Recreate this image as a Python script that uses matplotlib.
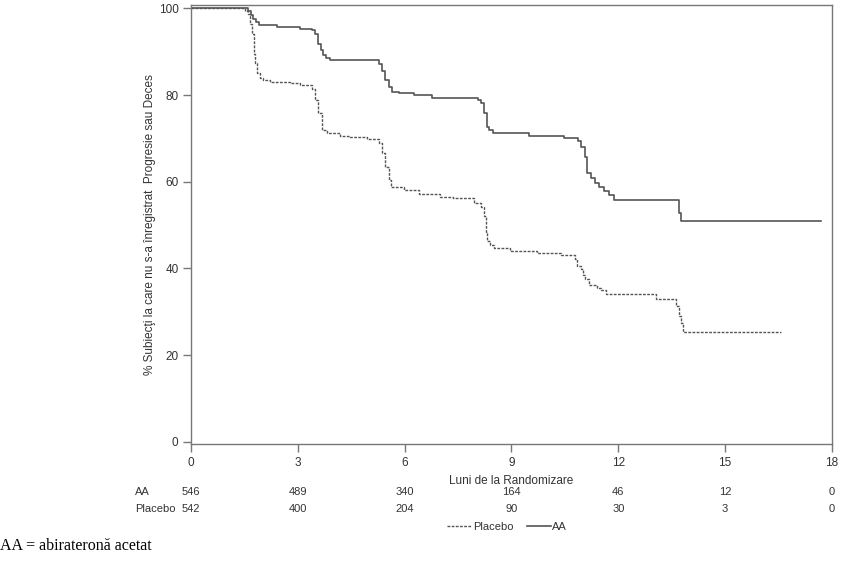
import matplotlib
matplotlib.use("Agg")
import matplotlib.pyplot as plt
from matplotlib.lines import Line2D
from matplotlib.transforms import blended_transform_factory

plt.rcParams["font.family"] = ["Liberation Sans Narrow", "Liberation Sans", "DejaVu Sans"]

# Kaplan-Meier steps (months, % free of progression or death)
aa_time = [0, 1.61, 1.68, 1.75, 1.82, 1.92, 2.41, 3.07, 3.39, 3.49, 3.57, 3.64,
           3.71, 3.8, 3.91, 5.27, 5.35, 5.45, 5.55, 5.64, 5.83, 6.25, 6.77, 8.05,
           8.13, 8.22, 8.3, 8.36, 8.48, 9.49, 10.47, 10.87, 10.94, 11.06, 11.13,
           11.22, 11.34, 11.46, 11.6, 11.74, 11.88, 13.71, 13.76, 17.7]
aa_surv = [100, 99.5, 98.5, 97.5, 96.8, 96.1, 95.7, 95.3, 95.1, 94.2, 91.9, 90.5,
           89.2, 88.5, 88.0, 87.2, 85.5, 83.5, 81.8, 80.8, 80.4, 80.0, 79.4, 78.8,
           78.1, 75.8, 72.7, 72.0, 71.2, 70.6, 70.2, 69.5, 68.1, 65.8, 62.0, 60.8,
           59.7, 58.7, 57.8, 56.9, 55.9, 52.8, 50.9, 50.9]

pl_time = [0, 1.52, 1.6, 1.65, 1.71, 1.77, 1.81, 1.85, 1.94, 2.03, 2.22, 2.78,
           3.07, 3.39, 3.49, 3.57, 3.68, 3.82, 4.19, 4.47, 4.94, 5.27, 5.36, 5.46,
           5.55, 5.62, 5.97, 6.39, 7.0, 7.37, 7.94, 8.13, 8.22, 8.27, 8.32, 8.41,
           8.5, 8.97, 9.72, 10.38, 10.77, 10.85, 10.94, 11.0, 11.06, 11.18, 11.41,
           11.5, 11.65, 13.05, 13.61, 13.69, 13.76, 13.82, 16.57]
pl_surv = [100, 99.5, 98.8, 96.5, 94.2, 89.6, 87.5, 85.0, 84.0, 83.4, 83.0, 82.9,
           82.3, 81.5, 78.9, 75.8, 72.0, 71.2, 70.6, 70.3, 69.8, 68.9, 66.6, 63.5,
           60.5, 58.7, 58.2, 57.2, 56.6, 56.2, 55.1, 54.3, 52.0, 48.2, 46.3, 45.5,
           44.8, 44.1, 43.6, 43.2, 42.1, 40.5, 39.8, 38.6, 37.5, 36.3, 35.6, 35.0,
           34.0, 32.9, 31.3, 29.0, 27.5, 25.4, 25.4]

risk_months = [0, 3, 6, 9, 12, 15, 18]
risk_aa = [546, 489, 340, 164, 46, 12, 0]
risk_placebo = [542, 400, 204, 90, 30, 3, 0]

grey = "#555555"
txt = "#333333"
W, H = 844, 566

fig = plt.figure(figsize=(W / 100, H / 100), dpi=100)
ax = fig.add_axes([191 / W, 1 - 444 / H, (832 - 191) / W, (444 - 5) / H])

ax.step(pl_time, pl_surv, where="post", color=grey, lw=1.0, ls=(0, (2, 1)))
ax.step(aa_time, aa_surv, where="post", color=grey, lw=1.2)

ax.set_xlim(0, 18)
ax.set_ylim(-0.5, 100.8)
ax.set_xticks(risk_months)
ax.set_yticks([0, 20, 40, 60, 80, 100])
for s in ax.spines.values():
    s.set_color("#777777")
    s.set_linewidth(1.0)
ax.tick_params(direction="out", length=6, width=1.0, color="#777777",
               labelcolor=txt, labelsize=8.5, pad=3)
ax.set_xlabel("Luni de la Randomizare", fontsize=8.5, color=txt, labelpad=5)
ax.set_ylabel("% Subiecţi la care nu s-a înregistrat  Progresie sau Deces",
              fontsize=8.5, color=txt, labelpad=2)

# number at risk table
tr = blended_transform_factory(ax.transData, fig.transFigure)
for row_y, name, vals in [(492, "AA", risk_aa), (509, "Placebo", risk_placebo)]:
    fig.text(135 / W, 1 - row_y / H, name, fontsize=8, color=txt, va="center")
    for m, v in zip(risk_months, vals):
        fig.text(m, 1 - row_y / H, str(v), transform=tr, fontsize=8,
                 color=txt, ha="center", va="center")

handles = [Line2D([], [], color=grey, lw=1.0, ls=(0, (2, 1))),
           Line2D([], [], color=grey, lw=1.2)]
fig.legend(handles, ["Placebo", "AA"], loc="center", ncol=2,
           bbox_to_anchor=(507 / W, 1 - 527 / H), frameon=False, fontsize=8,
           handlelength=2.2, handletextpad=0.1, columnspacing=1.2,
           labelcolor=txt)

fig.text(0, 1 - 546 / H, "AA = abirateronă acetat", fontsize=11.5,
         family=["Liberation Serif", "DejaVu Serif"], va="center")

fig.savefig("out.png", dpi=100)
